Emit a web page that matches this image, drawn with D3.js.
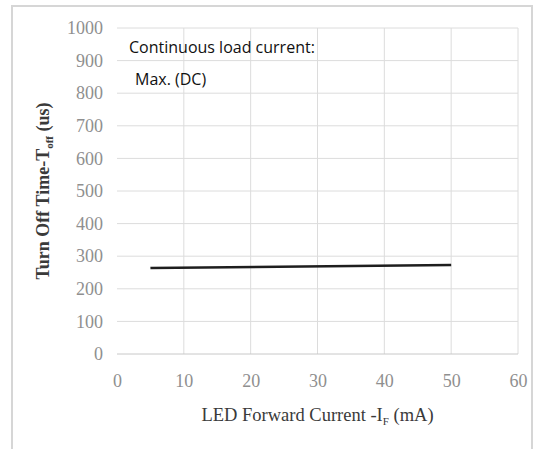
<!DOCTYPE html>
<html>
<head>
<meta charset="utf-8">
<script src="https://cdn.jsdelivr.net/npm/d3@7"></script>
<style>
  body { margin: 0; background: #fff; }
</style>
</head>
<body>
<div id="chart"></div>
<script>
// data
const current = [5, 50];          // LED forward current, mA
const turnOff = [264, 273];       // turn off time, us
const xTicks = [0, 10, 20, 30, 40, 50, 60];
const yTicks = [0, 100, 200, 300, 400, 500, 600, 700, 800, 900, 1000];
const note = ["Continuous load current:", "Max. (DC)"];

const W = 534, H = 449;
const margin = {t: 28, r: 16, b: 95, l: 117};

const svg = d3.select("#chart").append("svg")
  .attr("width", W)
  .attr("height", H);

// outer frame
svg.append("rect")
  .attr("x", 12).attr("y", 6)
  .attr("width", 520).attr("height", 460)
  .attr("fill", "none")
  .attr("stroke", "#d6d6d6")
  .attr("stroke-width", 2);

const x = d3.scaleLinear().domain([0, 60]).range([margin.l, W - margin.r]);
const y = d3.scaleLinear().domain([0, 1000]).range([H - margin.b, margin.t]);

// grid
svg.append("g")
  .selectAll("line")
  .data(xTicks.slice(1))
  .enter()
  .append("line")
  .attr("x1", d => x(d)).attr("x2", d => x(d))
  .attr("y1", y(0)).attr("y2", y(1000))
  .attr("stroke", "#dcdcdc");

svg.append("g")
  .selectAll("line")
  .data(yTicks)
  .enter()
  .append("line")
  .attr("x1", x(0)).attr("x2", x(60))
  .attr("y1", d => y(d)).attr("y2", d => y(d))
  .attr("stroke", d => d === 0 ? "#c8c8c8" : "#dcdcdc");

// axes (labels only)
const xAxis = svg.append("g")
  .attr("transform", `translate(0,${y(0) + 12})`)
  .call(d3.axisBottom(x).tickValues(xTicks).tickFormat(d3.format("d")).tickSize(0).tickPadding(8));
const yAxis = svg.append("g")
  .attr("transform", `translate(${x(0) - 14},0)`)
  .call(d3.axisLeft(y).tickValues(yTicks).tickFormat(d3.format("d")).tickSize(0).tickPadding(0));

[xAxis, yAxis].forEach(a => {
  a.select(".domain").remove();
  a.selectAll("text")
    .attr("fill", "#8f8f8f")
    .style("font-family", "'Liberation Serif', serif")
    .style("font-size", "18px");
});

// data line
const line = d3.line()
  .x((d, i) => x(current[i]))
  .y(d => y(d));

svg.append("path")
  .datum(turnOff)
  .attr("d", line)
  .attr("fill", "none")
  .attr("stroke", "#1e1e1e")
  .attr("stroke-width", 2.5);

// note
svg.selectAll(".note")
  .data(note)
  .enter()
  .append("text")
  .attr("class", "note")
  .attr("x", (d, i) => i === 0 ? 129 : 135)
  .attr("y", (d, i) => 53 + i * 32)
  .attr("fill", "#111")
  .style("font-family", "'Open Sans', sans-serif")
  .style("font-size", "16px")
  .text(d => d);

// axis titles
const xt = svg.append("text")
  .attr("x", x(30))
  .attr("y", 421)
  .attr("text-anchor", "middle")
  .attr("fill", "#3a3a3a")
  .style("font-family", "'Liberation Serif', serif")
  .style("font-size", "18.5px");
xt.append("tspan").text("LED Forward Current -I");
xt.append("tspan").attr("font-size", "11px").attr("dy", 4).text("F");
xt.append("tspan").attr("dy", -4).text(" (mA)");

const yt = svg.append("text")
  .attr("transform", `translate(49,${(y(0) + y(1000)) / 2}) rotate(-90)`)
  .attr("text-anchor", "middle")
  .attr("fill", "#3a3a3a")
  .style("font-family", "'Liberation Serif', serif")
  .style("font-weight", "bold")
  .style("font-size", "18px");
yt.append("tspan").text("Turn Off Time-T");
yt.append("tspan").attr("font-size", "11px").attr("dy", 4).text("off");
yt.append("tspan").attr("dy", -4).text(" (us)");
</script>
</body>
</html>
